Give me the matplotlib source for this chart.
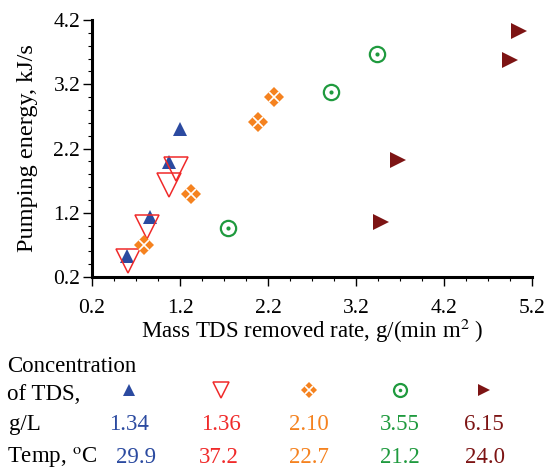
import matplotlib.pyplot as plt
from matplotlib.ticker import AutoMinorLocator

plt.rcParams['font.family'] = ['Liberation Serif', 'DejaVu Serif']
plt.rcParams['mathtext.fontset'] = 'stix'

# data
blue_x = [0.60, 0.86, 1.07, 1.20]
blue_y = [0.53, 1.13, 1.99, 2.50]
red_x = [0.61, 0.83, 1.07, 1.16]
red_y = [0.45, 0.98, 1.63, 1.88]
orange_x = [0.79, 1.33, 2.09, 2.27]
orange_y = [0.70, 1.49, 2.61, 3.00]
green_x = [1.75, 2.92, 3.44]
green_y = [0.96, 3.08, 3.67]
dred_x = [3.48, 3.68, 4.95, 5.05]
dred_y = [1.05, 2.02, 3.58, 4.03]

xticks = ['0.2', '1.2', '2.2', '3.2', '4.2', '5.2']
yticks = ['0.2', '1.2', '2.2', '3.2', '4.2']
conc = ['1.34', '1.36', '2.10', '3.55', '6.15']
temps = ['29.9', '37.2', '22.7', '21.2', '24.0']
colors = ['#2b4aa0', '#f02a2a', '#f5821f', '#1f9a3e', '#7d1414']

fig = plt.figure(figsize=(5.51, 4.71), dpi=100)
ax = fig.add_axes([92/551, 1-277/471, 440/551, 257/471])


def draw(axis, x, y, kind, scale=1.0, red_scale=1.0):
    if kind == 0:
        axis.plot(x, y, '^', color=colors[0], ms=10*scale, mew=0, ls='none', clip_on=False)
    elif kind == 1:
        axis.plot(x, y, 'v', mfc='none', mec=colors[1], ms=17*red_scale, mew=1.1, ls='none', clip_on=False)
    elif kind == 2:
        axis.plot(x, y, 'D', color=colors[2], ms=10*scale, mew=0, ls='none', clip_on=False)
        axis.plot(x, y, 'x', color='white', ms=7.5*scale, mew=1.2, ls='none', clip_on=False)
    elif kind == 3:
        axis.plot(x, y, 'o', mfc='none', mec=colors[3], ms=11*scale, mew=1.6, ls='none', clip_on=False)
        axis.plot(x, y, 'o', color=colors[3], ms=3*scale, mew=0, ls='none', clip_on=False)
    else:
        axis.plot(x, y, '>', color=colors[4], ms=11*scale, mew=0, ls='none', clip_on=False)


draw(ax, blue_x, blue_y, 0)
draw(ax, red_x, red_y, 1)
draw(ax, orange_x, orange_y, 2)
draw(ax, green_x, green_y, 3)
draw(ax, dred_x, dred_y, 4)

ax.set_xlim(0.2, 5.2)
ax.set_ylim(0.2, 4.2)
ax.set_xticks([float(t) for t in xticks])
ax.set_yticks([float(t) for t in yticks])
ax.set_xticklabels(xticks, fontsize=15.5)
ax.set_yticklabels(yticks, fontsize=15.5)
ax.xaxis.set_minor_locator(AutoMinorLocator(4))
ax.yaxis.set_minor_locator(AutoMinorLocator(5))

for s in ['top', 'right']:
    ax.spines[s].set_visible(False)
for s in ['left', 'bottom']:
    ax.spines[s].set_linewidth(2.2)
ax.tick_params(which='major', direction='out', length=6.5, width=1.0)
ax.tick_params(axis='x', which='major', pad=9.5)
ax.tick_params(axis='y', which='major', pad=2)
ax.tick_params(which='minor', direction='out', length=3, width=0.8)

ax.set_ylabel('Pumping energy, kJ/s', fontsize=17.5, labelpad=11)
ax.set_xlabel('Mass TDS removed rate, g/(min m$^2$ )', fontsize=16.5, labelpad=-1)

# legend-like table below the plot
fig.text(7/551, 1-372/471, 'Concentration', fontsize=16.5, va='baseline', ha='left')
fig.text(7/551, 1-400/471, 'of TDS,', fontsize=16.5, va='baseline', ha='left')
fig.text(9/551, 1-430/471, 'g/L', fontsize=16.5, va='baseline', ha='left')
fig.text(7/551, 1-463/471, 'Temp, $^{\\mathrm{o}}$C', fontsize=16.5, va='baseline', ha='left')

conc_x = [129, 221, 309, 400, 484]
temp_x = [136, 219, 309, 400, 485]
lax = fig.add_axes([0, 0, 1, 1], facecolor='none')
lax.set_xlim(0, 551)
lax.set_ylim(471, 0)
lax.axis('off')
for i in range(5):
    draw(lax, [conc_x[i]], [390], i, scale=0.85, red_scale=0.68)
    fig.text(conc_x[i]/551, 1-430/471, conc[i], fontsize=16.5, color=colors[i], ha='center', va='baseline')
    fig.text(temp_x[i]/551, 1-463/471, temps[i], fontsize=16.5, color=colors[i], ha='center', va='baseline')

fig.savefig('out.png', dpi=100)
